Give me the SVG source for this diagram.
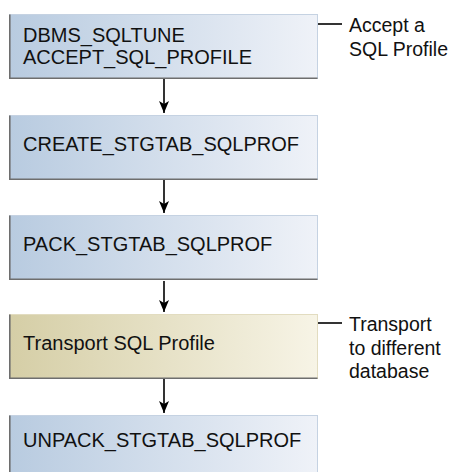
<svg xmlns="http://www.w3.org/2000/svg" width="458" height="472" viewBox="0 0 458 472">
<defs>
<linearGradient id="gBlue" x1="0" y1="0" x2="1" y2="0">
<stop offset="0" stop-color="#b8cbe0"/>
<stop offset="1" stop-color="#eff2f8"/>
</linearGradient>
<linearGradient id="gTan" x1="0" y1="0" x2="1" y2="0">
<stop offset="0" stop-color="#d5cea6"/>
<stop offset="1" stop-color="#f7f4e6"/>
</linearGradient>
<marker id="arr" viewBox="0 0 12 10" refX="12" refY="5" markerWidth="12" markerHeight="10" markerUnits="userSpaceOnUse" orient="auto">
<path d="M0,0 L12,5 L0,10 L3,5 Z" fill="#000"/>
</marker>
<style>
.box{stroke:#c5d2e2;stroke-width:1}
.tan{stroke:#e2dcc0;stroke-width:1}
.shadow{fill:none;stroke:#6e6e6e;stroke-width:1.6}
.t{font-family:"Liberation Sans",Arial,Helvetica,sans-serif;font-size:20px;fill:#111}
.lbl{font-family:"Liberation Sans",Arial,Helvetica,sans-serif;font-size:19.5px;fill:#111}
.conn{stroke:#000;stroke-width:1.6;fill:none}
</style>
</defs>
<g id="connectors">
<line class="conn" x1="164" y1="79" x2="164" y2="113" marker-end="url(#arr)"/>
<line class="conn" x1="164" y1="180" x2="164" y2="213" marker-end="url(#arr)"/>
<line class="conn" x1="164" y1="281" x2="164" y2="312" marker-end="url(#arr)"/>
<line class="conn" x1="164" y1="379" x2="164" y2="413" marker-end="url(#arr)"/>
<line class="conn" x1="311" y1="24" x2="342" y2="24"/>
<line class="conn" x1="318" y1="323" x2="342" y2="323"/>
</g>
<g id="node1">
<rect class="box" x="9.5" y="14.5" width="308" height="64" fill="url(#gBlue)"/>
<polyline class="shadow" points="9.8,14.5 9.8,78.2 317.5,78.2"/>
<text class="t" x="23" y="42">DBMS_SQLTUNE</text>
<text class="t" x="23" y="64">ACCEPT_SQL_PROFILE</text>
</g>
<g id="node2">
<rect class="box" x="9.5" y="115.5" width="308" height="64" fill="url(#gBlue)"/>
<polyline class="shadow" points="9.8,115.5 9.8,179.2 317.5,179.2"/>
<text class="t" x="23" y="151">CREATE_STGTAB_SQLPROF</text>
</g>
<g id="node3">
<rect class="box" x="9.5" y="215.5" width="308" height="64" fill="url(#gBlue)"/>
<polyline class="shadow" points="9.8,215.5 9.8,279.2 317.5,279.2"/>
<text class="t" x="23" y="251">PACK_STGTAB_SQLPROF</text>
</g>
<g id="node4">
<rect class="tan" x="9.5" y="314.5" width="308" height="64" fill="url(#gTan)"/>
<polyline class="shadow" points="9.8,314.5 9.8,378.2 317.5,378.2"/>
<text class="t" x="23" y="350">Transport SQL Profile</text>
</g>
<g id="node5">
<rect class="box" x="9.5" y="415.5" width="308" height="64" fill="url(#gBlue)"/>
<polyline class="shadow" points="9.8,415.5 9.8,479.2"/>
<text class="t" x="23" y="447">UNPACK_STGTAB_SQLPROF</text>
</g>
<g id="label1">
<text class="lbl" x="349" y="32">Accept a</text>
<text class="lbl" x="349" y="56">SQL Profile</text>
</g>
<g id="label2">
<text class="lbl" x="349" y="331">Transport</text>
<text class="lbl" x="349" y="355">to different</text>
<text class="lbl" x="349" y="378">database</text>
</g>
</svg>
